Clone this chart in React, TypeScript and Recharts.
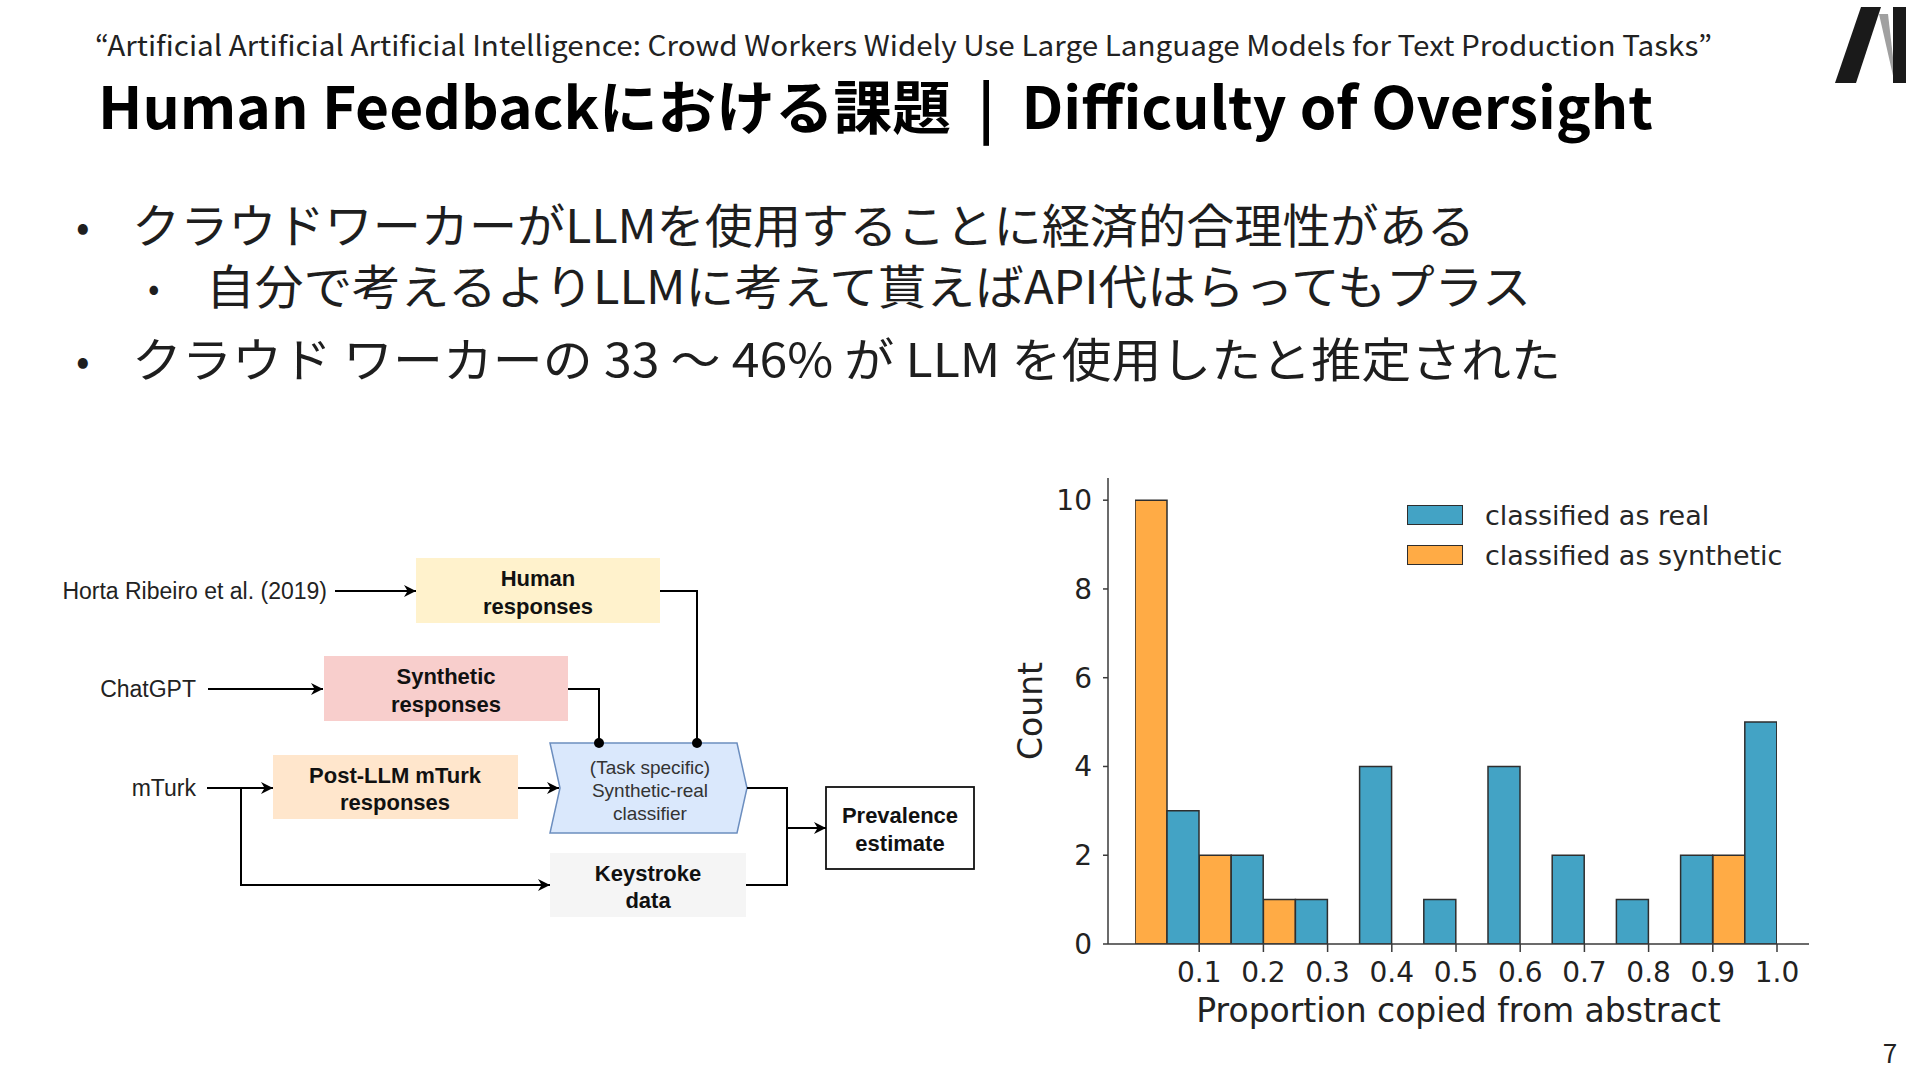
import React from 'react';
import { BarChart, Bar, XAxis, YAxis, Legend } from 'recharts';

// histogram bins (centre of each 0.1-wide bin of "proportion copied from abstract")
const binCenters = [0.05, 0.15, 0.25, 0.35, 0.45, 0.55, 0.65, 0.75, 0.85, 0.95];
const syntheticCounts = [10, 2, 1, 0, 0, 0, 0, 0, 0, 2];
const realCounts = [3, 2, 1, 4, 1, 4, 2, 1, 2, 5];
const xTicks = [0.1, 0.2, 0.3, 0.4, 0.5, 0.6, 0.7, 0.8, 0.9, 1.0];
const yTicks = [0, 2, 4, 6, 8, 10];
const legendOrder = ['real', 'synthetic'];

const data = binCenters.map((x, i) => ({ x, synthetic: syntheticCounts[i], real: realCounts[i] }));

const BLUE = '#43A3C5';
const ORANGE = '#FFAB45';
const EDGE = '#2e2e2e';
const MPL_FONT = '"DejaVu Sans", sans-serif';
const DIA_FONT = '"Liberation Sans", Arial, sans-serif';
const JP_FONT = '"Noto Sans CJK JP", "Noto Sans", sans-serif';

const LegendBox = ({ payload }: any) => {
  const items = legendOrder
    .map((k) => (payload || []).find((p: any) => p.dataKey === k))
    .filter(Boolean);
  return (
    <div style={{ fontFamily: MPL_FONT }}>
      {items.map((it: any) => (
        <div key={it.value} style={{ display: 'flex', alignItems: 'center', height: 40 }}>
          <div style={{ width: 54, height: 18, background: it.color, border: `1.5px solid ${EDGE}`, marginRight: 22 }} />
          <span style={{ fontSize: 27, color: '#262626' }}>{it.value}</span>
        </div>
      ))}
    </div>
  );
};

const Histogram = () => (
  <BarChart
    width={830}
    height={590}
    data={data}
    margin={{ top: 18, right: 21, left: 8, bottom: 0 }}
    barCategoryGap={0}
    barGap={0}
  >
    <XAxis
      dataKey="x"
      type="number"
      domain={[0, 1]}
      allowDataOverflow
      ticks={xTicks}
      padding={{ left: 27, right: 32 }}
      tickFormatter={(v: number) => v.toFixed(1)}
      height={106}
      tickSize={8}
      tickMargin={10}
      axisLine={{ stroke: '#3a3a3a', strokeWidth: 1.5 }}
      tickLine={{ stroke: '#3a3a3a', strokeWidth: 1.5 }}
      tick={{ fill: '#222', fontSize: 28, fontFamily: MPL_FONT }}
      label={{ value: 'Proportion copied from abstract', position: 'insideBottom', offset: 28, fill: '#222', fontSize: 33, fontFamily: MPL_FONT }}
    />
    <YAxis
      type="number"
      domain={[0, 10.5]}
      ticks={yTicks}
      allowDataOverflow
      width={100}
      tickSize={5}
      tickMargin={11}
      axisLine={{ stroke: '#3a3a3a', strokeWidth: 1.5 }}
      tickLine={{ stroke: '#3a3a3a', strokeWidth: 1.5 }}
      tick={{ fill: '#222', fontSize: 28, fontFamily: MPL_FONT }}
      label={{ value: 'Count', angle: -90, position: 'insideLeft', offset: 22, fill: '#222', fontSize: 33, fontFamily: MPL_FONT, style: { textAnchor: 'middle' } }}
    />
    <Legend
      layout="vertical"
      align="center"
      verticalAlign="middle"
      content={<LegendBox />}
      wrapperStyle={{ top: 35, left: 407, width: 'auto' }}
    />
    <Bar dataKey="synthetic" name="classified as synthetic" fill={ORANGE} stroke={EDGE} strokeWidth={1.5} isAnimationActive={false} />
    <Bar dataKey="real" name="classified as real" fill={BLUE} stroke={EDGE} strokeWidth={1.5} isAnimationActive={false} />
  </BarChart>
);

const Diagram = () => (
  <g fontFamily={DIA_FONT}>
    <defs>
      <marker id="arr" viewBox="0 0 10 10" refX="10" refY="5" markerWidth="13" markerHeight="12" markerUnits="userSpaceOnUse" orient="auto">
        <path d="M0,0 L10,5 L0,10 L3,5 Z" fill="#000" />
      </marker>
    </defs>
    {/* sources */}
    <text x={327} y={591} textAnchor="end" dominantBaseline="central" fontSize={23} fill="#222">Horta Ribeiro et al. (2019)</text>
    <text x={196} y={689} textAnchor="end" dominantBaseline="central" fontSize={23} fill="#222">ChatGPT</text>
    <text x={196} y={788} textAnchor="end" dominantBaseline="central" fontSize={23} fill="#222">mTurk</text>

    {/* boxes */}
    <rect x={416} y={558} width={244} height={65} fill="#FFF2CC" />
    <text x={538} y={578} textAnchor="middle" dominantBaseline="central" fontSize={22} fontWeight="bold" fill="#111">Human</text>
    <text x={538} y={606} textAnchor="middle" dominantBaseline="central" fontSize={22} fontWeight="bold" fill="#111">responses</text>

    <rect x={324} y={656} width={244} height={65} fill="#F8CECC" />
    <text x={446} y={676} textAnchor="middle" dominantBaseline="central" fontSize={22} fontWeight="bold" fill="#111">Synthetic</text>
    <text x={446} y={704} textAnchor="middle" dominantBaseline="central" fontSize={22} fontWeight="bold" fill="#111">responses</text>

    <rect x={273} y={755} width={245} height={64} fill="#FFE6CC" />
    <text x={395} y={775} textAnchor="middle" dominantBaseline="central" fontSize={22} fontWeight="bold" fill="#111">Post-LLM mTurk</text>
    <text x={395} y={802} textAnchor="middle" dominantBaseline="central" fontSize={22} fontWeight="bold" fill="#111">responses</text>

    <polygon points="550,743 737,743 747,788 737,833 550,833 560,788" fill="#DAE8FC" stroke="#6C8EBF" strokeWidth={1.5} />
    <text x={650} y={767} textAnchor="middle" dominantBaseline="central" fontSize={19} fill="#333">(Task specific)</text>
    <text x={650} y={790} textAnchor="middle" dominantBaseline="central" fontSize={19} fill="#333">Synthetic-real</text>
    <text x={650} y={813} textAnchor="middle" dominantBaseline="central" fontSize={19} fill="#333">classifier</text>

    <rect x={550} y={853} width={196} height={64} fill="#F5F5F5" />
    <text x={648} y={873} textAnchor="middle" dominantBaseline="central" fontSize={22} fontWeight="bold" fill="#111">Keystroke</text>
    <text x={648} y={900} textAnchor="middle" dominantBaseline="central" fontSize={22} fontWeight="bold" fill="#111">data</text>

    <rect x={826} y={787} width={148} height={82} fill="#fff" stroke="#111" strokeWidth={1.8} />
    <text x={900} y={815} textAnchor="middle" dominantBaseline="central" fontSize={22} fontWeight="bold" fill="#111">Prevalence</text>
    <text x={900} y={843} textAnchor="middle" dominantBaseline="central" fontSize={22} fontWeight="bold" fill="#111">estimate</text>

    {/* connectors */}
    <g stroke="#000" strokeWidth={2} fill="none">
      <line x1={335} y1={591} x2={416} y2={591} markerEnd="url(#arr)" />
      <polyline points="660,591 697,591 697,743" />
      <line x1={208} y1={689} x2={323} y2={689} markerEnd="url(#arr)" />
      <polyline points="568,689 599,689 599,743" />
      <line x1={207} y1={788} x2={273} y2={788} markerEnd="url(#arr)" />
      <polyline points="241,788 241,885 550,885" markerEnd="url(#arr)" />
      <line x1={518} y1={788} x2={559} y2={788} markerEnd="url(#arr)" />
      <polyline points="747,788 787,788 787,885 746,885" />
      <line x1={787} y1={828} x2={826} y2={828} markerEnd="url(#arr)" />
    </g>
    <circle cx={599} cy={743} r={5} fill="#000" />
    <circle cx={697} cy={743} r={5} fill="#000" />
  </g>
);

const App = () => (
  <div style={{ position: 'absolute', left: 0, top: 0, width: 1920, height: 1080, background: '#fff', overflow: 'hidden' }}>
    <svg width={1920} height={1080} style={{ position: 'absolute', left: 0, top: 0 }}>
      <text x={95} y={56} fontFamily={JP_FONT} fontSize={28} fill="#222" textLength={1617} lengthAdjust="spacingAndGlyphs">
        “Artificial Artificial Artificial Intelligence: Crowd Workers Widely Use Large Language Models for Text Production Tasks”
      </text>
      <text x={98} y={129} fontFamily={JP_FONT} fontSize={58} fontWeight="bold" fill="#000" textLength={1555} lengthAdjust="spacingAndGlyphs">
        {'Human Feedbackにおける課題\u00a0\u00a0|\u00a0\u00a0Difficulty of Oversight'}
      </text>

      <g fontFamily={JP_FONT} fill="#1e1e1e">
        <text x={76} y={224} fontSize={40} dominantBaseline="central">•</text>
        <text x={132} y={222} fontSize={47} dominantBaseline="central" textLength={1343} lengthAdjust="spacingAndGlyphs">クラウドワーカーがLLMを使用することに経済的合理性がある</text>
        <text x={148} y={285} fontSize={34} dominantBaseline="central">•</text>
        <text x={206} y={283} fontSize={47} dominantBaseline="central" textLength={1325} lengthAdjust="spacingAndGlyphs">自分で考えるよりLLMに考えて貰えばAPI代はらってもプラス</text>
        <text x={76} y={358} fontSize={40} dominantBaseline="central">•</text>
        <text x={132} y={356} fontSize={47} dominantBaseline="central" textLength={1429} lengthAdjust="spacingAndGlyphs">クラウド ワーカーの 33 ～ 46% が LLM を使用したと推定された</text>
      </g>

      {/* logo */}
      <polygon points="1835,83 1856,83 1881,7 1861,7" fill="#1a1a1a" />
      <polygon points="1879,14 1888,14 1894,66 1894,80" fill="#a0a0a0" />
      <rect x={1893} y={7} width={13} height={76} fill="#1a1a1a" />

      <text x={1890} y={1051} fontFamily={JP_FONT} fontSize={26} fill="#222" textAnchor="middle" dominantBaseline="central">7</text>

      <Diagram />
    </svg>
    <div style={{ position: 'absolute', left: 1000, top: 460 }}>
      <Histogram />
    </div>
  </div>
);

export default App;
